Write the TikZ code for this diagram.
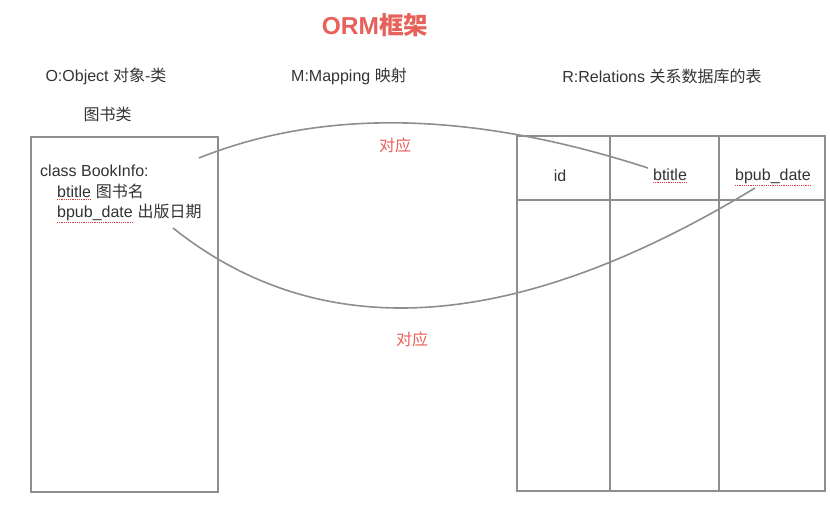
\documentclass[tikz,border=0pt]{standalone}
\usepackage{fontspec}
\setmainfont{Liberation Sans}
\newfontfamily\cjk{Noto Sans CJK SC}
\definecolor{ormred}{HTML}{E8605A}
\definecolor{linegray}{HTML}{8C8E92}
\definecolor{txt}{HTML}{333333}
\definecolor{spellred}{HTML}{E53935}
\begin{document}
\begin{tikzpicture}[x=1pt,y=-1pt,
 box/.style={draw=linegray,line width=1.6pt},
 lbl/.style={text=txt,font=\fontsize{16}{19}\selectfont,inner sep=0pt},
 redlbl/.style={text=ormred,font=\fontsize{16}{19}\selectfont\cjk,inner sep=0pt},
 link/.style={draw=linegray,line width=1.6pt},
 spell/.style={draw=spellred,line width=1.2pt,dash pattern=on 1.2pt off 1pt}]
\useasboundingbox (0,0) rectangle (830,518);
% title and headers
\node[text=ormred,font=\fontsize{24.5}{28}\selectfont\bfseries,inner sep=0pt] (title) at (375,25) {ORM{\cjk 框架}};
\node[lbl] (hO) at (106,76) {O:Object {\cjk 对象}-{\cjk 类}};
\node[lbl] (hM) at (349,76) {M:Mapping {\cjk 映射}};
\node[lbl] (hR) at (662,76) {R:Relations {\cjk 关系数据库的表}};
\node[lbl] (hB) at (107.5,114) {\cjk 图书类};
% class box
\node[box,minimum width=187pt,minimum height=355pt,anchor=north west,inner sep=0pt] (cls) at (30,136) {};
\node[lbl,anchor=base west] (l1) at (40,177) {class BookInfo:};
\node[lbl,anchor=base west] (l2a) at (57,198) {btitle};
\node[lbl,anchor=base west] (l2b) at ([xshift=4.4pt]l2a.base east) {\cjk 图书名};
\node[lbl,anchor=base west] (l3a) at (57,218) {bpub\_date};
\node[lbl,anchor=base west] (l3b) at ([xshift=4.4pt]l3a.base east) {\cjk 出版日期};
% table
\draw[box] (517,136) rectangle (825,491);
\draw[box] (610,136) -- (610,491);
\draw[box] (719,136) -- (719,491);
\draw[box] (517,200) -- (825,200);
\node[lbl] (tid) at (560,176) {id};
\node[lbl,anchor=base] (tbt) at (670,181) {btitle};
\node[lbl,anchor=base] (tbp) at (773,181) {bpub\_date};
% spell underlines
\draw[spell] ([yshift=-1.5pt]l2a.south west) -- ([yshift=-1.5pt]l2a.south east);
\draw[spell] ([yshift=-1pt]l3a.south west) -- ([yshift=-1pt]l3a.south east);
\draw[spell] ([yshift=-1.5pt]tbt.south west) -- ([yshift=-1.5pt]tbt.south east);
\draw[spell] ([yshift=-1pt]tbp.south west) -- ([yshift=-1pt]tbp.south east);
% mapping curves
\coordinate (s1) at (199,158);
\coordinate (e1) at (648,168);
\coordinate (s2) at (173,228);
\coordinate (e2) at (755,188);
\draw[link] (s1) .. controls (323.7,108) and (473.3,111.3) .. (e1);
\draw[link] (s2) .. controls (321.7,346.7) and (515.7,333.3) .. (e2);
\node[redlbl] (m1) at (395,145) {对应};
\node[redlbl] (m2) at (412,339) {对应};
\end{tikzpicture}
\end{document}
